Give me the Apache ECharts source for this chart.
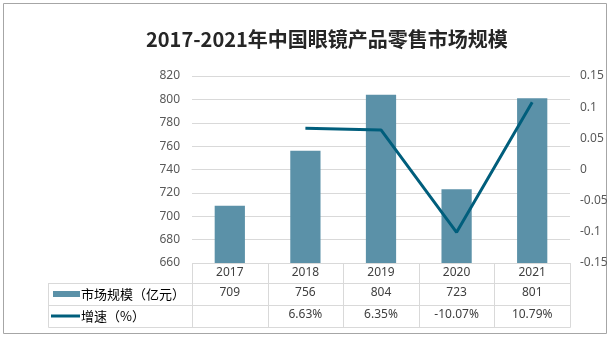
<!DOCTYPE html>
<html>
<head>
<meta charset="utf-8">
<script src="https://cdn.jsdelivr.net/npm/echarts@6/dist/echarts.min.js"></script>
<style>
  html, body { margin: 0; padding: 0; background: #fff; }
  #chart { width: 613px; height: 338px; }
</style>
</head>
<body>
<div id="chart"></div>
<script>
// Retail market of eyewear products in China, 2017-2021
const years = ['2017', '2018', '2019', '2020', '2021'];
const marketSize = [709, 756, 804, 723, 801];          // 亿元
const growthPct = [null, 6.63, 6.35, -10.07, 10.79];  // %
const leftTicks = { min: 660, max: 820, interval: 20 };
const rightTicks = { min: -0.15, max: 0.15, interval: 0.05 };

const barColor = '#5b91a8';
const lineColor = '#005e7c';
const gridColor = '#d9d9d9';
const textColor = '#404040';
const cnFont = '"Noto Sans CJK SC", "Noto Sans", sans-serif';
const numFont = '"Noto Sans", "Noto Sans CJK SC", sans-serif';

const sizeText = marketSize.map(v => String(v));
const growthText = growthPct.map(v => v == null ? '' : v.toFixed(2) + '%');
const growthRatio = growthPct.map(v => v == null ? null : v / 100);

const chart = echarts.init(document.getElementById('chart'));

// one category axis per table row; offsets place them in rows under the plot
function rowAxis(data, offset, showLabel) {
  return {
    type: 'category',
    data: data,
    position: 'bottom',
    offset: offset,
    axisLine: { show: true, lineStyle: { color: gridColor, width: 1 } },
    axisTick: { show: false },
    axisLabel: { show: showLabel, interval: 0, margin: 4, color: textColor, fontSize: 12, fontFamily: numFont },
    splitLine: { show: false }
  };
}

// rich-text so the full-width brackets keep a full cell each
const labelRich = {
  t: { fontSize: 13, fontFamily: cnFont, color: textColor },
  p: { fontSize: 13, fontFamily: cnFont, color: textColor, width: 13, align: 'center' }
};

const option = {
  animation: false,
  backgroundColor: '#fff',
  title: {
    text: '2017-2021年中国眼镜产品零售市场规模',
    left: 141,
    top: 24,
    textStyle: { fontSize: 20, fontWeight: 'bold', color: '#262626', fontFamily: cnFont }
  },
  grid: { left: 192, right: 43, top: 76, bottom: 75, containLabel: false },
  xAxis: [
    rowAxis(years, 0, true),
    rowAxis(sizeText, 20, true),
    rowAxis(growthText, 42, true),
    rowAxis(years, 64, false)
  ],
  yAxis: [
    {
      type: 'value',
      min: leftTicks.min, max: leftTicks.max, interval: leftTicks.interval,
      axisLine: { show: false }, axisTick: { show: false },
      axisLabel: { margin: 12, color: '#595959', fontSize: 12, fontFamily: numFont },
      splitLine: { show: true, lineStyle: { color: gridColor, width: 1 } }
    },
    {
      type: 'value',
      min: rightTicks.min, max: rightTicks.max, interval: rightTicks.interval,
      position: 'right',
      axisLine: { show: false }, axisTick: { show: false },
      axisLabel: {
        margin: 10, color: '#595959', fontSize: 12, fontFamily: numFont,
        formatter: v => String(parseFloat(v.toFixed(2)))
      },
      splitLine: { show: false }
    }
  ],
  series: [
    {
      name: '市场规模（亿元）',
      type: 'bar',
      xAxisIndex: 0, yAxisIndex: 0,
      data: marketSize,
      barWidth: '40%',
      itemStyle: { color: barColor }
    },
    {
      name: '增速（%）',
      type: 'line',
      xAxisIndex: 0, yAxisIndex: 1,
      data: growthRatio,
      showSymbol: false,
      symbol: 'none',
      lineStyle: { color: lineColor, width: 3 },
      connectNulls: false
    }
  ]
};

chart.setOption(option);

// table frame: column dividers at the category boundaries, plus the header column
const c0 = chart.convertToPixel({ xAxisIndex: 0 }, 0);
const c1 = chart.convertToPixel({ xAxisIndex: 0 }, 1);
const band = c1 - c0;
const axisY = chart.convertToPixel({ yAxisIndex: 0 }, leftTicks.min);
const tableBottom = axisY + 64;
const gfx = [
  { type: 'rect', shape: { x: 3.5, y: 3.5, width: 603, height: 330 },
    style: { fill: 'none', stroke: '#a6a6a6', lineWidth: 1 }, silent: true }
];
for (let i = 0; i <= years.length; i++) {
  const x = Math.round(c0 - band / 2 + i * band) + 0.5;
  gfx.push({ type: 'line', shape: { x1: x, y1: axisY, x2: x, y2: tableBottom + 0.5 },
    style: { stroke: gridColor, lineWidth: 1 } });
}
const left = 48.5, right = Math.round(c0 - band / 2);
[20, 42, 64].forEach(off => {
  const y = Math.round(axisY + off) + 0.5;
  gfx.push({ type: 'line', shape: { x1: left, y1: y, x2: right, y2: y }, style: { stroke: gridColor, lineWidth: 1 } });
});
gfx.push({ type: 'line', shape: { x1: left, y1: axisY + 20, x2: left, y2: tableBottom + 0.5 }, style: { stroke: gridColor, lineWidth: 1 } });
// legend keys inside the header column
gfx.push({ type: 'rect', shape: { x: 53, y: axisY + 28, width: 27, height: 6 }, style: { fill: barColor } });
gfx.push({ type: 'text', x: 81, y: axisY + 31, style: {
  text: '{t|市场规模}{p|（}{t|亿元}{p|）}', rich: labelRich, verticalAlign: 'middle' } });
gfx.push({ type: 'line', shape: { x1: 51, y1: axisY + 53, x2: 80, y2: axisY + 53 }, style: { stroke: lineColor, lineWidth: 3 } });
gfx.push({ type: 'text', x: 81, y: axisY + 53, style: {
  text: '{t|增速}{p|（}{t|%}{p|）}', rich: labelRich, verticalAlign: 'middle' } });
chart.setOption({ graphic: gfx });
</script>
</body>
</html>
